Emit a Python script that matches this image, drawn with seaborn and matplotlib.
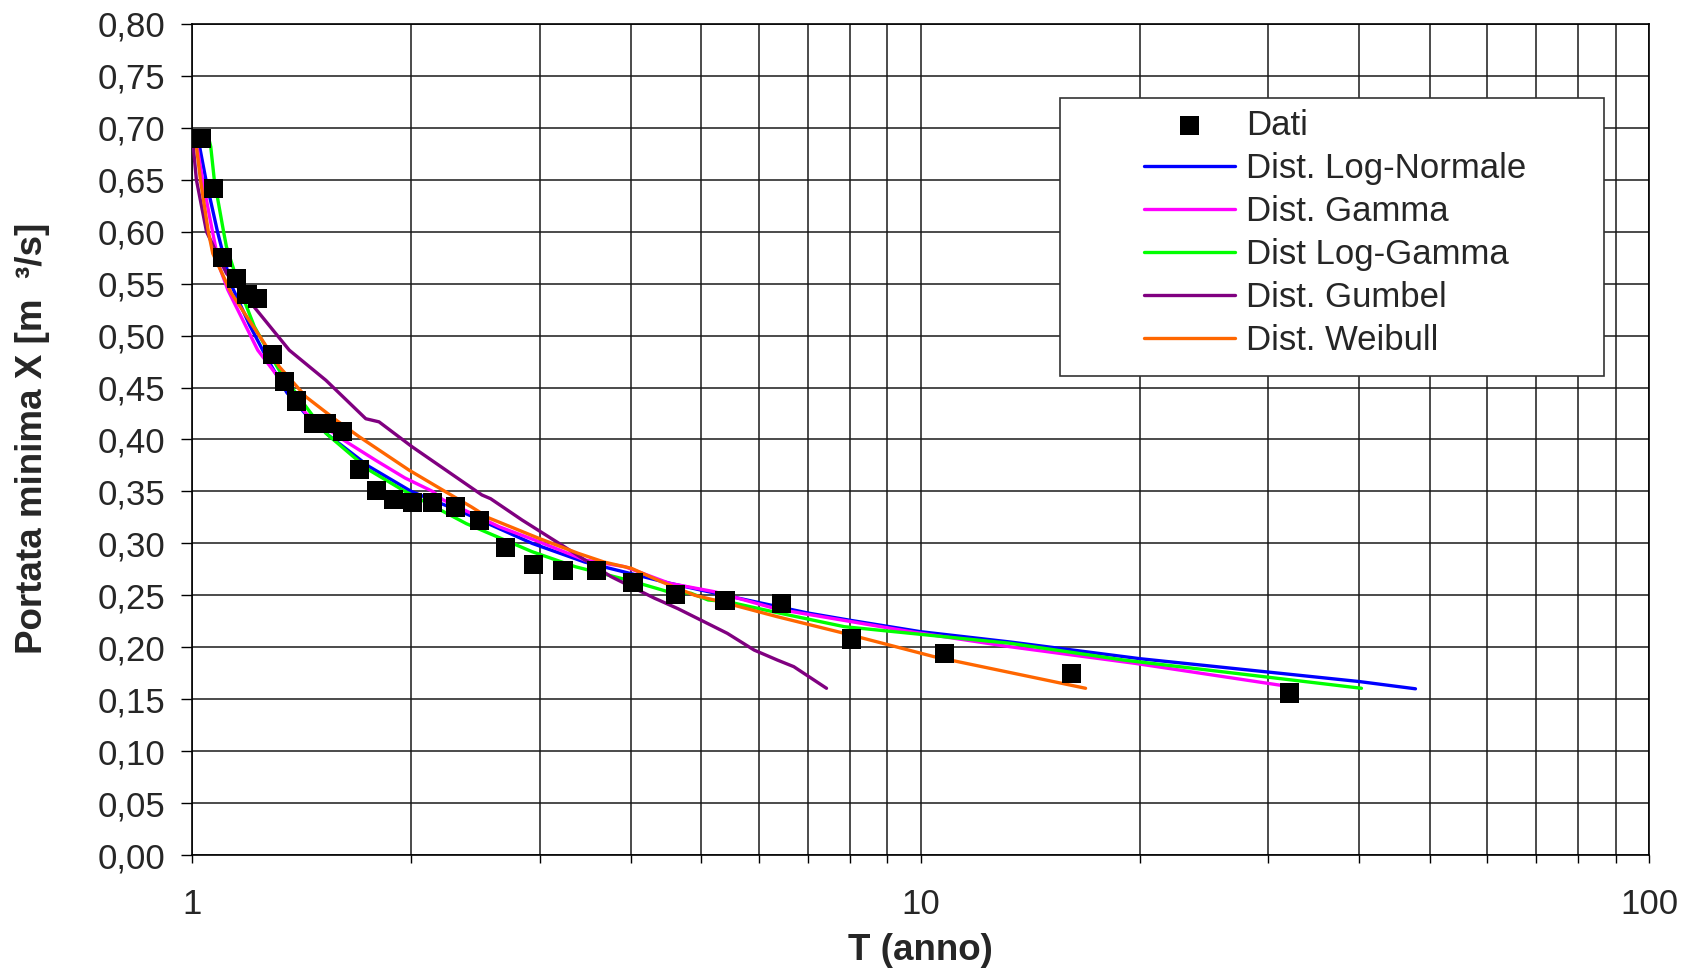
import numpy as np
import pandas as pd
import matplotlib
matplotlib.use("Agg")
import matplotlib.pyplot as plt
import matplotlib.ticker as mticker
from matplotlib.patches import Rectangle
import seaborn as sns

sns.set_style("white")
plt.rcParams['font.family'] = ['Liberation Sans', 'DejaVu Sans']

# ---- data ----
T_dati = [1.03, 1.07, 1.10, 1.15, 1.19, 1.23, 1.29, 1.34, 1.39, 1.47, 1.53, 1.61, 1.70,
          1.79, 1.89, 2.01, 2.14, 2.30, 2.48, 2.69, 2.94, 3.23, 3.59, 4.03, 4.61, 5.39,
          6.45, 8.05, 10.8, 16.1, 32.1]
X_dati = [0.690, 0.642, 0.575, 0.555, 0.540, 0.536, 0.482, 0.456, 0.437, 0.415, 0.415,
          0.408, 0.371, 0.351, 0.342, 0.339, 0.339, 0.335, 0.322, 0.296, 0.280, 0.274,
          0.274, 0.262, 0.251, 0.245, 0.242, 0.208, 0.194, 0.175, 0.156]

T_lognorm = [1.016, 1.045, 1.084, 1.13, 1.20, 1.27, 1.35, 1.43, 1.54, 1.75, 2.0, 2.37,
             2.93, 3.46, 4.05, 4.5, 5.0, 6.0, 7.0, 8.0, 10.0, 13.3, 20.0, 40.0, 47.8]
X_lognorm = [0.695, 0.65, 0.60, 0.55, 0.51, 0.477, 0.445, 0.425, 0.404, 0.374, 0.350, 0.329,
             0.300, 0.282, 0.270, 0.262, 0.255, 0.243, 0.233, 0.226, 0.215, 0.205, 0.189,
             0.167, 0.160]

T_gamma = [1.009, 1.034, 1.067, 1.091, 1.12, 1.231, 1.434, 1.61, 1.787, 1.96, 2.14, 2.21,
           2.64, 2.96, 3.46, 3.93, 4.52, 5.21, 6.36, 9.69, 13.27, 19.7, 32.6]
X_gamma = [0.695, 0.65, 0.60, 0.566, 0.544, 0.486, 0.425, 0.40, 0.38, 0.363, 0.35, 0.342,
           0.316, 0.303, 0.284, 0.2775, 0.2616, 0.2535, 0.2367, 0.215, 0.2005, 0.1845, 0.1614]

T_loggamma = [1.05, 1.061, 1.073, 1.105, 1.115, 1.17, 1.218, 1.284, 1.325, 1.527, 1.75,
              1.95, 2.38, 2.93, 3.36, 4.0, 4.5, 4.84, 5.11, 5.43, 6.36, 7.86, 13.27, 19.0, 40.3]
X_loggamma = [0.695, 0.682, 0.65, 0.60, 0.5856, 0.54, 0.5086, 0.48, 0.4637, 0.406, 0.3706,
              0.351, 0.319, 0.292, 0.2775, 0.264, 0.2535, 0.252, 0.2455, 0.2439, 0.2333,
              0.2198, 0.2038, 0.1877, 0.1605]

T_gumbel = [1.0, 1.014, 1.047, 1.115, 1.206, 1.36, 1.527, 1.732, 1.806, 2.005, 2.50, 2.57,
            2.838, 3.217, 3.76, 4.32, 4.37, 4.65, 5.43, 5.91, 6.36, 6.70, 7.43]
X_gumbel = [0.695, 0.650, 0.60, 0.560, 0.531, 0.486, 0.457, 0.420, 0.417, 0.393, 0.3466,
            0.343, 0.3225, 0.2984, 0.268, 0.247, 0.2455, 0.237, 0.2134, 0.1973, 0.1877,
            0.1813, 0.1605]

T_weibull = [1.009, 1.027, 1.053, 1.068, 1.132, 1.257, 1.318, 1.434, 1.576, 1.696, 1.985,
             2.25, 2.42, 2.555, 2.99, 3.39, 3.68, 4.01, 4.41, 4.90, 5.21, 6.36, 7.86, 10.44, 16.85]
X_weibull = [0.695, 0.65, 0.60, 0.579, 0.541, 0.4926, 0.470, 0.441, 0.4188, 0.4027, 0.3706,
             0.348, 0.335, 0.3245, 0.305, 0.2904, 0.282, 0.276, 0.263, 0.250, 0.2455, 0.2294,
             0.2134, 0.1909, 0.1605]

series_names = ["Dist. Log-Normale", "Dist. Gamma", "Dist Log-Gamma", "Dist. Gumbel", "Dist. Weibull"]
series_T = [T_lognorm, T_gamma, T_loggamma, T_gumbel, T_weibull]
series_X = [X_lognorm, X_gamma, X_loggamma, X_gumbel, X_weibull]
colors = ["#0000FF", "#FF00FF", "#00FF00", "#800080", "#FF6600"]

y_ticks = [i * 0.05 for i in range(17)]

# ---- build long table ----
rows = []
for name, ts, xs in zip(series_names, series_T, series_X):
    for i, (t, x) in enumerate(zip(ts, xs)):
        rows.append({"serie": name, "T": t, "X": x, "i": i})
df_lines = pd.DataFrame(rows)
df_dati = pd.DataFrame({"T": T_dati, "X": X_dati, "serie": "Dati"})

W, H = 1696, 972
fig = plt.figure(figsize=(W / 100, H / 100), dpi=100)
L, R, T_, B = 192, 1649, 24, 855
ax = fig.add_axes([L / W, 1 - B / H, (R - L) / W, (B - T_) / H])

ax.set_xscale("log")
ax.set_xlim(1, 100)
ax.set_ylim(0, 0.8)

ax.grid(True, which="both", axis="x", color="#1a1a1a", lw=1.1)
ax.grid(True, which="major", axis="y", color="#1a1a1a", lw=1.1)
ax.set_axisbelow(True)

sns.lineplot(data=df_lines, x="T", y="X", hue="serie", hue_order=series_names,
             palette=dict(zip(series_names, colors)), estimator=None, sort=False,
             lw=2.4, ax=ax, legend=True, zorder=3)
sns.scatterplot(data=df_dati, x="T", y="X", marker="s", color="black", s=190,
                edgecolor="none", ax=ax, label="Dati", zorder=4, legend=True)

ax.set_yticks(y_ticks)
ax.yaxis.set_major_formatter(mticker.FuncFormatter(lambda v, p: f"{v:.2f}".replace(".", ",")))
ax.xaxis.set_major_formatter(mticker.FuncFormatter(lambda v, p: f"{v:g}"))
ax.xaxis.set_minor_formatter(mticker.NullFormatter())
ax.tick_params(axis="y", which="major", direction="out", length=8, width=1, labelsize=25,
               pad=11, color="black", left=True)
ax.tick_params(axis="x", which="both", direction="out", length=6, width=1, labelsize=25,
               pad=18, color="black", bottom=True)
for s in ax.spines.values():
    s.set_color("black")
    s.set_linewidth(1.2)

ax.set_xlabel("")
ax.set_ylabel("")
fig.text(33 / W, 1 - 438 / H, "Portata minima X [m  ³/s]", rotation=90, ha="center",
         va="center", fontsize=26.5, fontweight="bold")
fig.text(920 / W, 1 - 950 / H, "T (anno)", ha="center", va="center", fontsize=26.5,
         fontweight="bold")

# legend
handles, labels = ax.get_legend_handles_labels()
hmap = dict(zip(labels, handles))
order = ["Dati"] + series_names
if ax.get_legend():
    ax.get_legend().remove()
frame = Rectangle((1060 / W, 1 - 376 / H), 544 / W, 278 / H, transform=fig.transFigure,
                  facecolor="white", edgecolor="#333333", lw=1.2, zorder=5)
fig.patches.append(frame)
leg = fig.legend([hmap[k] for k in order], order, loc="upper left",
                 bbox_to_anchor=(1144 / W, 1 - 109 / H), frameon=False, fontsize=25,
                 handlelength=2.62, handletextpad=0.32, labelspacing=0.29, borderpad=0,
                 borderaxespad=0, markerscale=1.0)
leg.set_zorder(6)

fig.savefig("out.png", dpi=100)
